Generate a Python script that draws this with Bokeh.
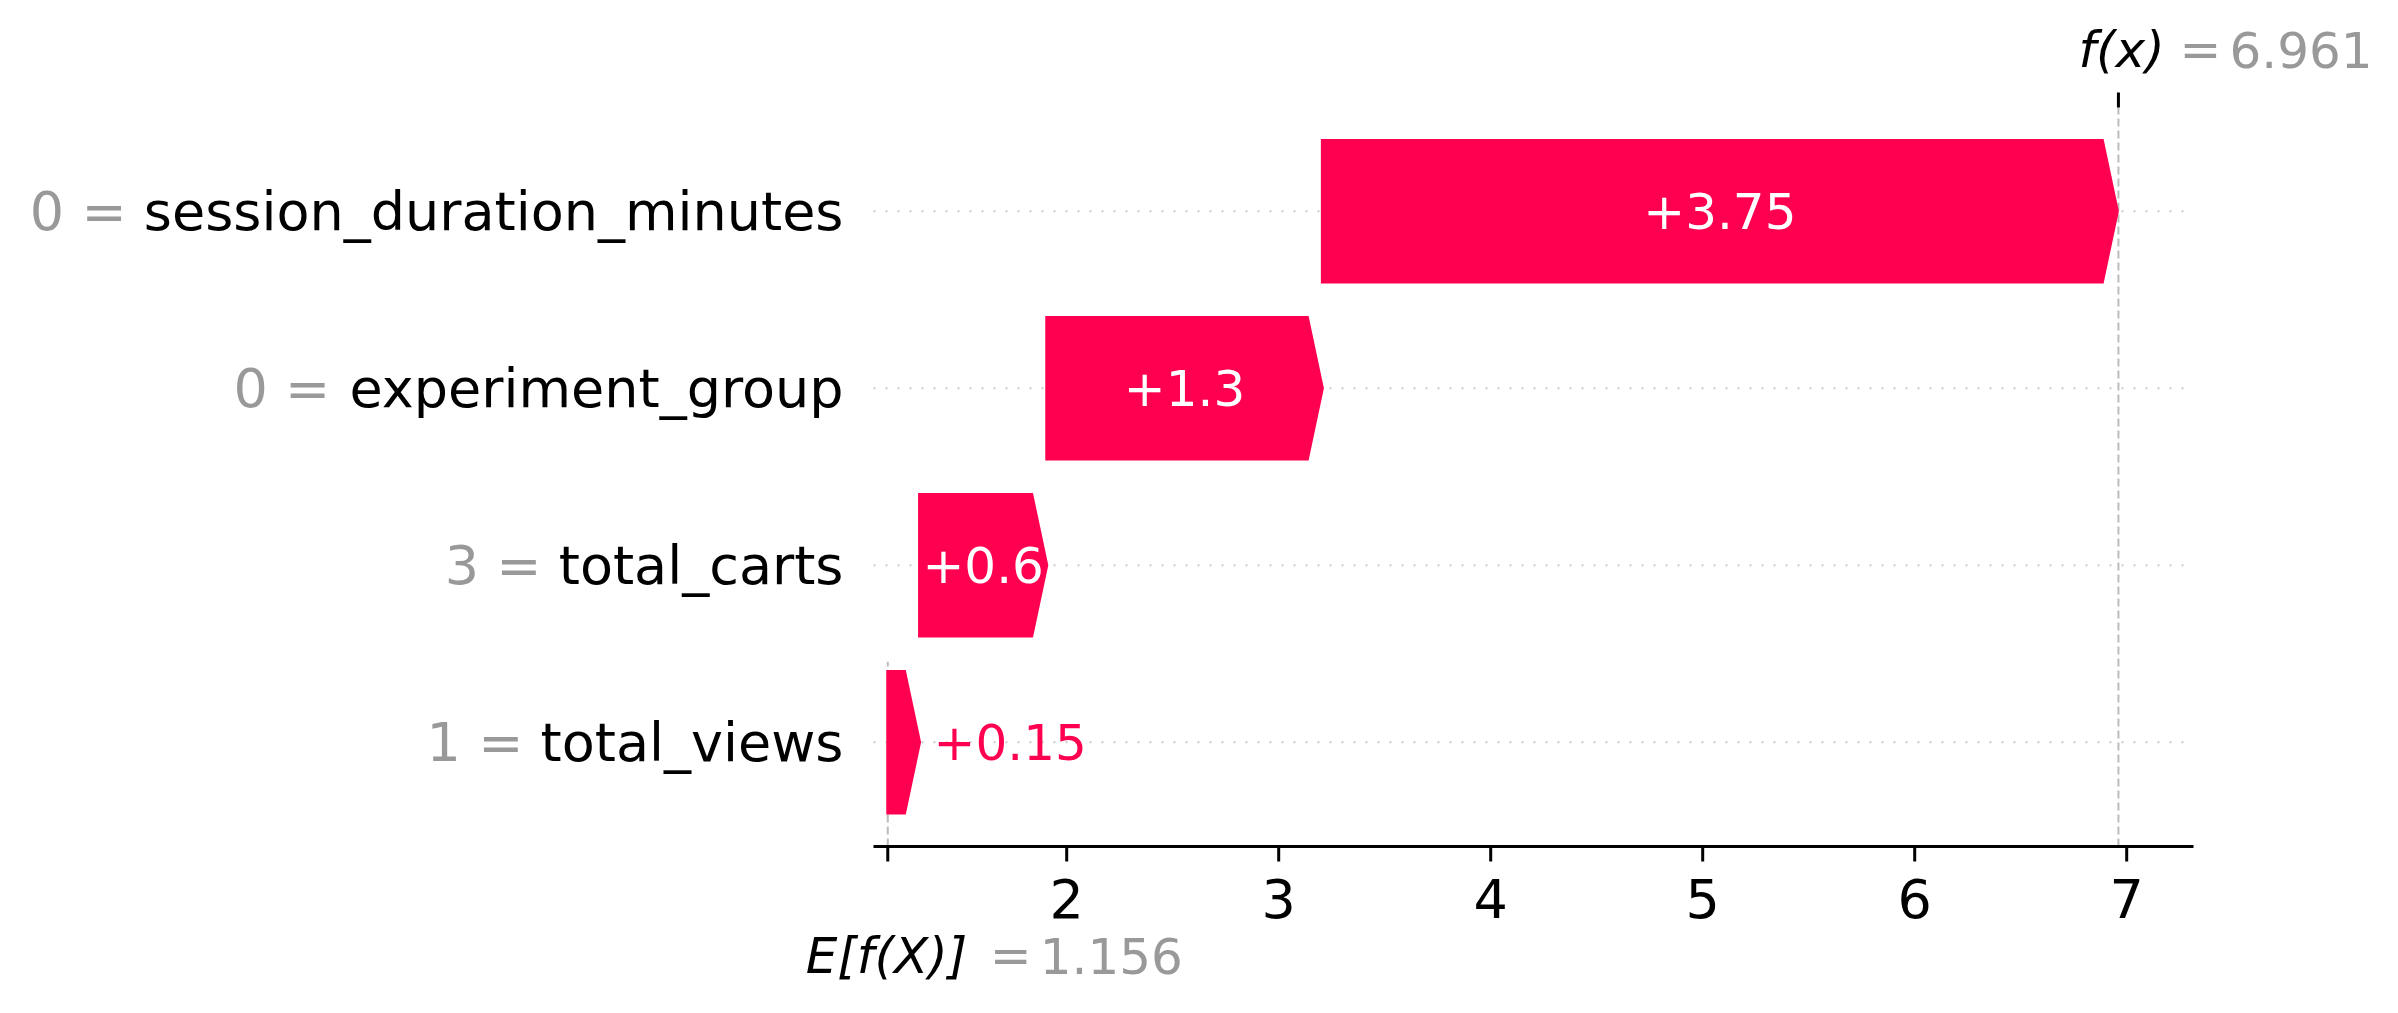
from bokeh.plotting import figure
from bokeh.models import Range1d
from bokeh.core.properties import value
from bokeh.embed import file_html
from bokeh.resources import INLINE

# ---------------- data ----------------
features = ["session_duration_minutes", "experiment_group", "total_carts", "total_views"]
feature_values = ["0", "0", "3", "1"]
shap_values = [3.75, 1.3, 0.6, 0.15]
shap_labels = ["+3.75", "+1.3", "+0.6", "+0.15"]
base_value = 1.156
fx_value = 6.961
base_label = "1.156"
fx_label = "6.961"
x_ticks = [2, 3, 4, 5, 6, 7]
x_tick_labels = ["2", "3", "4", "5", "6", "7"]

# ---------------- style / layout ----------------
RED = "#ff0051"
GRAY = "#999999"
FONT = "DejaVu Sans"
W, H = 2398, 1013
AL, AR, AT, AB = 873, 2193, 107, 846      # axes-area edges in px
PX_UNIT = 212.0                           # px per x unit
TICK1_PX = 854.2                          # px position of x = 1
ROW_PX = 177.0                            # px per row
ROW0_PX = 741.7                           # px of bottom row centre


def px_to_x(px):
    return 1 + (px - TICK1_PX) / PX_UNIT


def px_to_y(py):
    return (ROW0_PX - py) / ROW_PX


ax_x0, ax_x1 = px_to_x(AL), px_to_x(AR)
ax_y0, ax_y1 = px_to_y(AB), px_to_y(AT)

# DejaVu Sans advance widths (units per em = 2048)
ADV = {" ": 651, "a": 1255, "c": 1126, "d": 1300, "e": 1260, "g": 1300, "i": 569,
       "l": 569, "m": 1995, "n": 1298, "o": 1253, "p": 1300, "r": 842, "s": 1067,
       "t": 803, "u": 1298, "v": 1212, "w": 1675, "x": 1212, "_": 1024, "+": 1716,
       "-": 739, ".": 651, "=": 1716}
for d in "0123456789":
    ADV[d] = 1303


def text_width(s, size):
    return sum(ADV.get(ch, 1200) for ch in s) / 2048.0 * size


p = figure(width=W, height=H, x_range=Range1d(px_to_x(0), px_to_x(W)),
           y_range=Range1d(px_to_y(H), px_to_y(0)),
           output_backend="svg", toolbar_location=None,
           x_axis_location=None, y_axis_location=None,
           min_border_left=0, min_border_right=0, min_border_top=0, min_border_bottom=0)
p.outline_line_color = None
p.xgrid.visible = False
p.ygrid.visible = False
p.background_fill_color = "white"
p.border_fill_color = "white"

n = len(features)
rows = [n - 1 - i for i in range(n)]  # first feature on top

# row guide lines
p.segment(x0=[ax_x0] * n, x1=[ax_x1] * n, y0=rows, y1=rows,
          line_color="#cccccc", line_width=2, line_dash="2 10")

# f(x) and E[f(X)] dashed lines
p.segment(x0=[fx_value], y0=[ax_y0], x1=[fx_value], y1=[ax_y1],
          line_color="#bbbbbb", line_width=2, line_dash="8 4")
p.segment(x0=[base_value], y0=[ax_y0], x1=[base_value], y1=[ax_y0 + (ax_y1 - ax_y0) / n],
          line_color="#bbbbbb", line_width=2, line_dash="8 4")

# cumulative arrows (bottom row starts at base value)
lefts = [0.0] * n
acc = base_value
for i in reversed(range(n)):
    lefts[i] = acc
    acc += shap_values[i]

head = 15.0 / PX_UNIT
half = 0.4
xs, ys = [], []
for i in range(n):
    l = lefts[i]
    r = lefts[i] + shap_values[i]
    hl = min(head, shap_values[i])
    y = rows[i]
    xs.append([l, r - hl, r, r - hl, l])
    ys.append([y - half, y - half, y, y + half, y + half])
p.patches(xs, ys, fill_color=RED, line_color=RED, line_width=3, line_join="miter")

# value labels
in_x, in_y, in_t, out_x, out_y, out_t = [], [], [], [], [], []
for i in range(n):
    bar_px = shap_values[i] * PX_UNIT
    if text_width(shap_labels[i], 50) + 2 < bar_px:
        in_x.append(lefts[i] + shap_values[i] / 2)
        in_y.append(rows[i])
        in_t.append(shap_labels[i])
    else:
        out_x.append(lefts[i] + shap_values[i])
        out_y.append(rows[i])
        out_t.append(shap_labels[i])
p.text(x=in_x, y=in_y, text=in_t, text_color="white", text_align="center", text_baseline="middle",
       text_font=value(FONT), text_font_size="50px")
p.text(x=out_x, y=out_y, text=out_t, text_color=RED, text_align="left", text_baseline="middle",
       text_font=value(FONT), text_font_size="50px", x_offset=14)

# y labels: "value = name"
p.text(x=[ax_x0] * n, y=rows, text=features, x_offset=-30, text_align="right",
       text_baseline="middle", text_font=value(FONT), text_font_size="54px", text_color="black")
pref_off = [-30 - text_width(f, 54) - text_width(" ", 54) for f in features]
p.text(x=[ax_x0] * n, y=rows, text=[v + " =" for v in feature_values], x_offset=pref_off,
       text_align="right", text_baseline="middle", text_font=value(FONT),
       text_font_size="54px", text_color=GRAY)

# bottom axis: spine, ticks, tick labels
tick_len = 15.0 / ROW_PX
p.segment(x0=[ax_x0], y0=[ax_y0], x1=[ax_x1], y1=[ax_y0], line_color="black", line_width=3)
all_ticks = [base_value] + x_ticks
p.segment(x0=all_ticks, y0=[ax_y0] * len(all_ticks), x1=all_ticks,
          y1=[ax_y0 - tick_len] * len(all_ticks), line_color="black", line_width=3)
p.text(x=x_ticks, y=[ax_y0] * len(x_ticks), text=x_tick_labels, y_offset=52,
       text_align="center", text_baseline="alphabetic", text_font=value(FONT),
       text_font_size="54px", text_color="black")

# top tick at f(x)
p.segment(x0=[fx_value], y0=[ax_y1], x1=[fx_value], y1=[ax_y1 + tick_len],
          line_color="black", line_width=3)

# f(x) label
p.text(x=[fx_value], y=[ax_y1], text=["f(x)"], x_offset=-40, y_offset=-58,
       text_align="left", text_baseline="alphabetic", text_font=value(FONT),
       text_font_style="italic", text_font_size="50px", text_color="black")
p.text(x=[fx_value, fx_value], y=[ax_y1, ax_y1], text=["=", fx_label], x_offset=[61, 111],
       y_offset=-58, text_align="left", text_baseline="alphabetic", text_font=value(FONT),
       text_font_size="50px", text_color=GRAY)

# E[f(X)] label
p.text(x=[base_value], y=[ax_y0], text=["E[f(X)]"], x_offset=-82, y_offset=109,
       text_align="left", text_baseline="alphabetic", text_font=value(FONT),
       text_font_style="italic", text_font_size="50px", text_color="black")
p.text(x=[base_value, base_value], y=[ax_y0, ax_y0], text=["=", base_label], x_offset=[102, 152],
       y_offset=109, text_align="left", text_baseline="alphabetic", text_font=value(FONT),
       text_font_size="50px", text_color=GRAY)

open("out.html", "w").write(file_html(p, INLINE))
